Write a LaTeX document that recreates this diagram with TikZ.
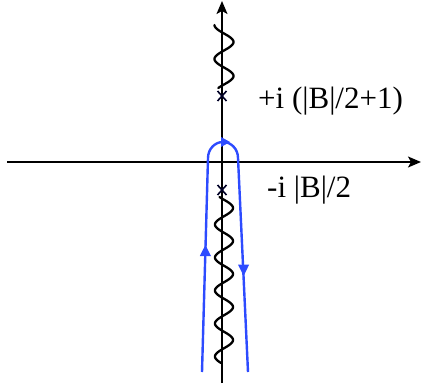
\documentclass[tikz,border=0pt]{standalone}
\usepackage{fontspec}
\setmainfont{Liberation Serif}
\usetikzlibrary{arrows.meta}
\definecolor{contourblue}{RGB}{45,75,255}
\tikzset{
  axis/.style={line width=1.6pt, -{Stealth[length=13pt,width=11pt,inset=3pt]}},
  wave/.style={line width=2.3pt, line cap=round},
  pole/.style={line width=1.6pt, draw=black!85!blue},
  contour/.style={line width=2.4pt, draw=contourblue},
  lbl/.style={anchor=base west, inner sep=0pt, font=\fontsize{31}{36}\selectfont}
}
\begin{document}
\begin{tikzpicture}[x=1pt, y=-1pt]
\useasboundingbox (0,0) rectangle (422,385);
% axes
\coordinate (vb) at (222,383);
\coordinate (vt) at (222,1);
\coordinate (hl) at (7,162);
\coordinate (hr) at (421,162);
\draw[axis] (vb) -- (vt);
\draw[axis] (hl) -- (hr);
% wavy branch cuts
\draw[wave] plot[domain=25:88, samples=120, variable=\t, smooth] ({224-9.5*cos(10.588*(\t-25))}, \t);
\draw[wave] plot[domain=197:363, samples=250, variable=\t, smooth] ({224+9*cos(10.909*(\t-208))}, \t);
% poles
\coordinate (p1) at (222,96);
\coordinate (p2) at (222,190);
\draw[pole] ([shift={(-4.5,-5)}]p1) -- ([shift={(4.5,5)}]p1) ([shift={(-4.5,5)}]p1) -- ([shift={(4.5,-5)}]p1);
\draw[pole] ([shift={(-4.5,-5)}]p2) -- ([shift={(4.5,5)}]p2) ([shift={(-4.5,5)}]p2) -- ([shift={(4.5,-5)}]p2);
% contour
\coordinate (c1) at (202,372);
\coordinate (c2) at (208,158);
\coordinate (c3) at (238,158);
\coordinate (c4) at (248,372);
\draw[contour, line join=round] (c1) -- (c2) arc[start angle=180, end angle=360, x radius=15, y radius=16] -- (c4);
% arrowheads on contour
\fill[contourblue] (205.4,245) -- (211,256) -- (199.8,256) -- cycle;
\fill[contourblue] (243.6,276) -- (238,264.5) -- (249.2,264.5) -- cycle;
\fill[contourblue] (230,142) -- (221,137) -- (221,147) -- cycle;
% labels
\node[lbl] (t1) at (258,108) {+i (|B|/2+1)};
\node[lbl] (t2) at (267,197) {-i |B|/2};
\end{tikzpicture}
\end{document}
